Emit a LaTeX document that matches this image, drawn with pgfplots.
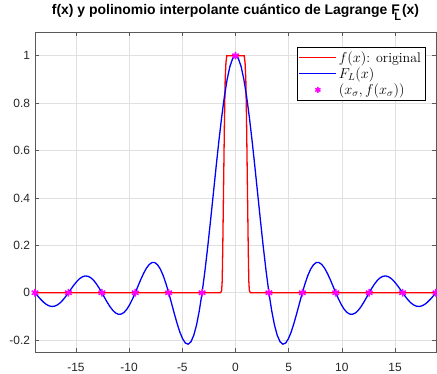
\documentclass[border=0pt]{standalone}
\usepackage{pgfplots}
\pgfplotsset{compat=1.18}
\usepackage{fontspec}
\newfontfamily\helv{Liberation Sans}
\definecolor{axgray}{rgb}{0.35,0.35,0.35}
\definecolor{tickgray}{rgb}{0.15,0.15,0.15}
\definecolor{gridgray}{rgb}{0.88,0.88,0.88}
\definecolor{mymag}{rgb}{1,0,1}
\pgfplotsset{
  longred/.style={legend image code/.code={\draw[red, line width=1.3pt] (0cm,0cm) -- (1.3cm,0cm);}},
  longblue/.style={legend image code/.code={\draw[blue, line width=1.3pt] (0cm,0cm) -- (1.3cm,0cm);}},
  centermark/.style={legend image code/.code={\draw[mymag, line width=1.5pt, mark=asterisk, mark size=3pt] plot coordinates {(0.65cm,0cm)};}},
}
\pgfplotstableread{
x y
-18.8496 0
-18.5878 -0.0139
-18.3260 -0.0273
-18.0642 -0.0391
-17.8024 -0.0486
-17.5406 -0.0551
-17.2788 -0.0579
-17.0170 -0.0568
-16.7552 -0.0517
-16.4934 -0.0429
-16.2316 -0.0308
-15.9698 -0.0162
-15.7080 0
-15.4462 0.0168
-15.1844 0.0329
-14.9226 0.0474
-14.6608 0.0591
-14.3990 0.0671
-14.1372 0.0707
-13.8754 0.0696
-13.6136 0.0636
-13.3518 0.0530
-13.0900 0.0382
-12.8282 0.0202
-12.5664 0
-12.3046 -0.0210
-12.0428 -0.0415
-11.7810 -0.0600
-11.5192 -0.0752
-11.2574 -0.0858
-10.9956 -0.0909
-10.7338 -0.0900
-10.4720 -0.0827
-10.2102 -0.0693
-9.9484 -0.0503
-9.6866 -0.0267
-9.4248 0
-9.1630 0.0282
-8.9012 0.0562
-8.6394 0.0818
-8.3776 0.1034
-8.1158 0.1190
-7.8540 0.1273
-7.5922 0.1272
-7.3304 0.1181
-7.0686 0.1000
-6.8068 0.0735
-6.5450 0.0395
-6.2832 0
-6.0214 -0.0430
-5.7596 -0.0868
-5.4978 -0.1286
-5.2360 -0.1654
-4.9742 -0.1942
-4.7124 -0.2122
-4.4506 -0.2170
-4.1888 -0.2067
-3.9270 -0.1801
-3.6652 -0.1364
-3.4034 -0.0760
-3.1416 0
-2.8798 0.0899
-2.6180 0.1910
-2.3562 0.3001
-2.0944 0.4135
-1.8326 0.5271
-1.5708 0.6366
-1.3090 0.7379
-1.0472 0.8270
-0.7854 0.9003
-0.5236 0.9549
-0.2618 0.9886
0 1
0.2618 0.9886
0.5236 0.9549
0.7854 0.9003
1.0472 0.8270
1.3090 0.7379
1.5708 0.6366
1.8326 0.5271
2.0944 0.4135
2.3562 0.3001
2.6180 0.1910
2.8798 0.0899
3.1416 0
3.4034 -0.0760
3.6652 -0.1364
3.9270 -0.1801
4.1888 -0.2067
4.4506 -0.2170
4.7124 -0.2122
4.9742 -0.1942
5.2360 -0.1654
5.4978 -0.1286
5.7596 -0.0868
6.0214 -0.0430
6.2832 0
6.5450 0.0395
6.8068 0.0735
7.0686 0.1000
7.3304 0.1181
7.5922 0.1272
7.8540 0.1273
8.1158 0.1190
8.3776 0.1034
8.6394 0.0818
8.9012 0.0562
9.1630 0.0282
9.4248 0
9.6866 -0.0267
9.9484 -0.0503
10.2102 -0.0693
10.4720 -0.0827
10.7338 -0.0900
10.9956 -0.0909
11.2574 -0.0858
11.5192 -0.0752
11.7810 -0.0600
12.0428 -0.0415
12.3046 -0.0210
12.5664 0
12.8282 0.0202
13.0900 0.0382
13.3518 0.0530
13.6136 0.0636
13.8754 0.0696
14.1372 0.0707
14.3990 0.0671
14.6608 0.0591
14.9226 0.0474
15.1844 0.0329
15.4462 0.0168
15.7080 0
15.9698 -0.0162
16.2316 -0.0308
16.4934 -0.0429
16.7552 -0.0517
17.0170 -0.0568
17.2788 -0.0579
17.5406 -0.0551
17.8024 -0.0486
18.0642 -0.0391
18.3260 -0.0273
18.5878 -0.0139
18.8496 0
}\datablue
\pgfplotstableread{
x y
-18.8496 0
-1.40 0
-1.30 0.01
-1.25 0.05
-1.20 0.18
-1.12 0.45
-1.04 0.72
-0.97 0.90
-0.90 0.97
-0.82 1
0.82 1
0.90 0.97
0.97 0.90
1.04 0.72
1.12 0.45
1.20 0.18
1.25 0.05
1.30 0.01
1.40 0
18.8496 0
}\datared
\pgfplotstableread{
x y
-18.8496 0
-15.7080 0
-12.5664 0
-9.4248 0
-6.2832 0
-3.1416 0
0 1
3.1416 0
6.2832 0
9.4248 0
12.5664 0
15.7080 0
18.8496 0
}\datapts
\begin{document}
\begin{tikzpicture}
\begin{axis}[
  at={(0,0)}, anchor=south west,
  scale only axis,
  width=401bp, height=320bp,
  xmin=-18.8496, xmax=18.8496,
  ymin=-0.25, ymax=1.1,
  xtick={-15,-10,-5,0,5,10,15},
  ytick={-0.2,0,0.2,0.4,0.6,0.8,1},
  /pgf/number format/assume math mode=true,
  ticklabel style={font=\helv\fontsize{12}{14}\selectfont, text=tickgray},
  xticklabel shift=8bp,
  yticklabel style={/pgf/number format/fixed, xshift=-1.5bp},
  grid=major,
  major grid style={gridgray, line width=0.5pt},
  axis line style={axgray, line width=0.6pt},
  tick style={axgray, line width=0.6pt},
  tick align=inside,
  major tick length=4bp,
  title={f(x) y polinomio interpolante cuántico de Lagrange F\kern-5.5pt\raisebox{-0.85ex}{\fontsize{11}{11}\selectfont L}\kern1pt(x)},
  title style={font=\helv\bfseries\fontsize{14}{16}\selectfont, at={(0.5,1)}, anchor=base, yshift=12bp},
  legend style={at={(0.973,0.953)}, anchor=north east, draw=black, line width=0.5pt, fill=white,
    font=\fontsize{14}{16}\selectfont, row sep=0pt, inner sep=2pt},
  legend cell align=left,
]
\addplot[red, line width=1.3pt, longred] table[x=x,y=y]{\datared};
\addlegendentry{$f(x)$: original}
\addplot[blue, line width=1.3pt, longblue] table[x=x,y=y]{\datablue};
\addlegendentry{$F_L(x)$}
\addplot[only marks, mark=asterisk, mark size=3.8pt, mymag, line width=1.6pt, centermark] table[x=x,y=y]{\datapts};
\addlegendentry{$(x_\sigma,f(x_\sigma))$}
\end{axis}
\pgfresetboundingbox
\path (-35bp,-22bp) rectangle (402bp,352bp);
\end{tikzpicture}
\end{document}
